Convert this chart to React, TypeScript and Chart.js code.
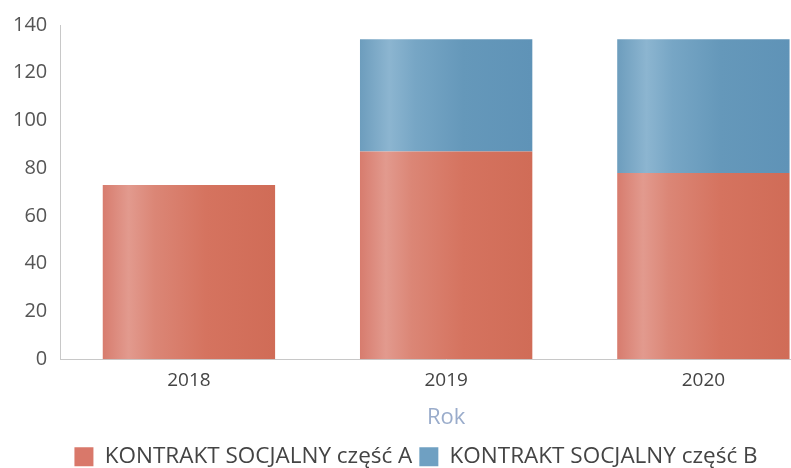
import React, { useEffect, useRef } from "react";
import { Chart, registerables } from "chart.js";

Chart.register(...registerables);

const years = ["2018", "2019", "2020"];
const partA = [73, 87, 78];
const partB = [0, 47, 56];
const seriesNames = ["KONTRAKT SOCJALNY część A", "KONTRAKT SOCJALNY część B"];
const yTicks = [0, 20, 40, 60, 80, 100, 120, 140];
const axisTitle = "Rok";

const FONT = "'Open Sans', 'Noto Sans', sans-serif";
const CAT_PCT = 0.67;

function gradientFill(stops: [number, string][], solid: string) {
  return (ctx: any) => {
    const chart = ctx.chart;
    const xs = chart.scales && chart.scales.x;
    if (!xs || ctx.type !== "data" || !chart.chartArea) return solid;
    const center = xs.getPixelForValue(ctx.dataIndex);
    const w = (xs.width / years.length) * CAT_PCT;
    const g = chart.ctx.createLinearGradient(center - w / 2, 0, center + w / 2, 0);
    stops.forEach(([p, c]) => g.addColorStop(p, c));
    return g;
  };
}

const redStops: [number, string][] = [
  [0, "#d77c6e"],
  [0.15, "#e29a8e"],
  [0.3, "#db8676"],
  [0.6, "#d5735f"],
  [1, "#d06c57"],
];
const blueStops: [number, string][] = [
  [0, "#6d9dbd"],
  [0.17, "#8cb5d0"],
  [0.32, "#77a6c5"],
  [0.6, "#6598ba"],
  [1, "#5f93b7"],
];

export default function App() {
  const ref = useRef<HTMLCanvasElement | null>(null);
  useEffect(() => {
    if (!ref.current) return;
    const chart = new Chart(ref.current, {
      type: "bar",
      data: {
        labels: years,
        datasets: [
          {
            label: seriesNames[0],
            data: partA,
            backgroundColor: gradientFill(redStops, "#d9786a"),
            borderWidth: 0,
            categoryPercentage: CAT_PCT,
            barPercentage: 1,
          },
          {
            label: seriesNames[1],
            data: partB,
            backgroundColor: gradientFill(blueStops, "#6fa0c2"),
            borderWidth: 0,
            categoryPercentage: CAT_PCT,
            barPercentage: 1,
          },
        ],
      },
      options: {
        responsive: false,
        animation: false,
        layout: { padding: { top: 8, right: 3, left: 0, bottom: 0 } },
        plugins: {
          tooltip: { enabled: false },
          legend: {
            position: "bottom",
            labels: {
              font: { family: FONT, size: 22.5 },
              color: "#444",
              boxWidth: 19,
              boxHeight: 19,
              padding: 7,
              generateLabels: () => [
                { text: seriesNames[0], fillStyle: "#d9786a", strokeStyle: "#d9786a", lineWidth: 0, datasetIndex: 0, fontColor: "#444" },
                { text: seriesNames[1], fillStyle: "#6fa0c2", strokeStyle: "#6fa0c2", lineWidth: 0, datasetIndex: 1, fontColor: "#444" },
              ] as any,
            },
          },
        },
        scales: {
          x: {
            stacked: true,
            grid: { display: false, drawTicks: false },
            border: { display: true, color: "#c8c8c8", dash: [2, 2], width: 1 },
            ticks: { font: { family: FONT, size: 19 }, color: "#444", padding: 10 },
            title: {
              display: true,
              text: axisTitle,
              color: "#9aaccb",
              font: { family: FONT, size: 22 },
              padding: { top: 2, bottom: 8 },
            },
          },
          y: {
            stacked: true,
            min: 0,
            max: 140,
            afterBuildTicks: (axis: any) => {
              axis.ticks = yTicks.map((v) => ({ value: v }));
            },
            grid: { display: false, drawTicks: false },
            border: { display: true, color: "#c8c8c8", dash: [2, 2], width: 1 },
            ticks: { font: { family: FONT, size: 20 }, color: "#555", padding: 13 },
          },
        },
      },
    });
    return () => chart.destroy();
  }, []);
  return (
    <div style={{ position: "fixed", left: 0, top: 0, width: 791, height: 468, overflow: "hidden", background: "#fff" }}>
      <canvas ref={ref} width={835} height={478} style={{ display: "block" }} />
    </div>
  );
}
